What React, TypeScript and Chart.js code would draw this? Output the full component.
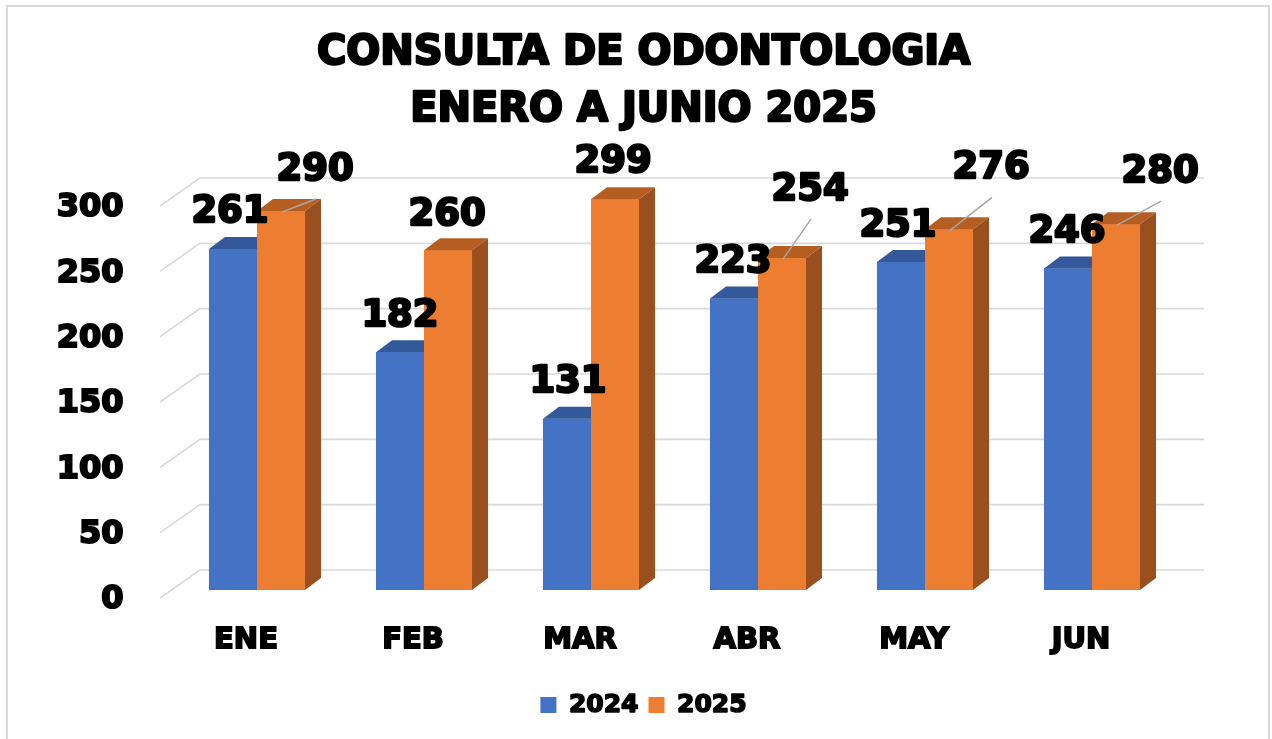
import React, { useEffect, useRef } from "react";
import { Chart, registerables } from "chart.js";

Chart.register(...registerables);

const TITLE_LINES = ["CONSULTA DE ODONTOLOGIA", "ENERO A JUNIO 2025"];
const CATEGORIES = ["ENE", "FEB", "MAR", "ABR", "MAY", "JUN"];
const SERIES_NAMES = ["2024", "2025"];
const VALUES_2024 = [261, 182, 131, 223, 251, 246];
const VALUES_2025 = [290, 260, 299, 254, 276, 280];
const Y_MIN = 0;
const Y_MAX = 300;
const Y_STEP = 50;

// manual label placement (offset from bar top-centre), like the moved labels in the original
const LABEL_OFFSETS_2024: [number, number][] = [[-3, -37], [0, -36], [1, -36], [-1, -36], [-3, -36], [-1, -36]];
const LABEL_OFFSETS_2025: [number, number][] = [[34, -41], [-1, -35], [-2, -37], [28, -68], [42, -61], [44, -52]];
const LEADERS_2025 = [true, false, false, true, true, true];

const FRONT_COLORS = ["#4472C4", "#ED7D31"];
const TOP_COLORS = ["#34599B", "#B65E22"];
const SIDE_COLORS = ["#2E4E88", "#9A501E"];
const FONT = "DejaVu Sans";
const DEPTH_X = 16;
const DEPTH_Y = -12;

const TITLE_SIZE = 40;
const TITLE_LH = 1.425;
const TITLE_PAD_TOP = 25.5;
const LEGEND_SIZE = 25;
const LEGEND_BOX = 16;

const frame3d = {
  id: "frame3d",
  beforeDraw(chart: any) {
    const { ctx, width, height } = chart;
    ctx.save();
    ctx.fillStyle = "#ffffff";
    ctx.fillRect(0, 0, width, height);
    ctx.strokeStyle = "#d9d9d9";
    ctx.lineWidth = 2;
    ctx.strokeRect(7, 6, 1262, 800);
    ctx.restore();
  },
  beforeDatasetsDraw(chart: any) {
    const { ctx } = chart;
    const ys = chart.scales.y;
    ctx.save();
    ctx.strokeStyle = "#d9d9d9";
    ctx.lineWidth = 1.6;
    ys.ticks.forEach((t: any) => {
      const y = ys.getPixelForValue(t.value);
      ctx.beginPath();
      ctx.moveTo(160, y + 8);
      ctx.lineTo(200, y - 20);
      ctx.lineTo(1204, y - 20);
      ctx.stroke();
    });
    ctx.restore();
  },
  afterDatasetsDraw(chart: any) {
    const { ctx } = chart;
    ctx.save();
    // redraw bars in series order so each 3D block layers like the original
    chart.data.datasets.forEach((_ds: any, di: number) => {
      const meta = chart.getDatasetMeta(di);
      meta.data.forEach((bar: any) => {
        bar.draw(ctx);
        const { x, y, base, width } = bar.getProps(["x", "y", "base", "width"], true);
        const x0 = x - width / 2;
        const x1 = x + width / 2;
        ctx.fillStyle = TOP_COLORS[di];
        ctx.beginPath();
        ctx.moveTo(x0, y);
        ctx.lineTo(x1, y);
        ctx.lineTo(x1 + DEPTH_X, y + DEPTH_Y);
        ctx.lineTo(x0 + DEPTH_X, y + DEPTH_Y);
        ctx.closePath();
        ctx.fill();
        ctx.fillStyle = SIDE_COLORS[di];
        ctx.beginPath();
        ctx.moveTo(x1, y);
        ctx.lineTo(x1 + DEPTH_X, y + DEPTH_Y);
        ctx.lineTo(x1 + DEPTH_X, base + DEPTH_Y);
        ctx.lineTo(x1, base);
        ctx.closePath();
        ctx.fill();
      });
    });
    // data labels
    chart.data.datasets.forEach((ds: any, di: number) => {
      const meta = chart.getDatasetMeta(di);
      const offsets = di === 0 ? LABEL_OFFSETS_2024 : LABEL_OFFSETS_2025;
      meta.data.forEach((bar: any, i: number) => {
        const { x, y } = bar.getProps(["x", "y"], true);
        const lx = x + offsets[i][0];
        const ly = y + offsets[i][1];
        if (di === 1 && LEADERS_2025[i]) {
          ctx.strokeStyle = "#a6a6a6";
          ctx.lineWidth = 1.5;
          ctx.beginPath();
          ctx.moveTo(x + 1, y + 1);
          ctx.lineTo(lx + 1, ly + 29);
          ctx.stroke();
        }
        ctx.font = `bold 37px "${FONT}"`;
        ctx.textAlign = "center";
        ctx.textBaseline = "middle";
        ctx.strokeStyle = "#000000";
        ctx.lineWidth = 2.4;
        ctx.lineJoin = "round";
        ctx.strokeText(String(ds.data[i]), lx, ly);
        ctx.fillStyle = "#000000";
        ctx.fillText(String(ds.data[i]), lx, ly);
      });
    });
    ctx.restore();
  },
  afterDraw(chart: any) {
    const { ctx } = chart;
    ctx.save();
    ctx.strokeStyle = "#000000";
    ctx.lineJoin = "round";
    ctx.textBaseline = "middle";
    // thicken title
    const tb = chart.titleBlock;
    if (tb) {
      const lh = TITLE_SIZE * TITLE_LH;
      ctx.font = `bold ${TITLE_SIZE}px "${FONT}"`;
      ctx.textAlign = "center";
      ctx.lineWidth = 2.4;
      const cx = (tb.left + tb.right) / 2;
      TITLE_LINES.forEach((t, i) => {
        ctx.strokeText(t, cx, tb.top + TITLE_PAD_TOP + lh / 2 + i * lh);
      });
    }
    // thicken legend text
    const lg = chart.legend;
    if (lg && lg.legendHitBoxes) {
      ctx.font = `bold ${LEGEND_SIZE}px "${FONT}"`;
      ctx.textAlign = "left";
      ctx.lineWidth = 1.6;
      lg.legendItems.forEach((it: any, i: number) => {
        const hb = lg.legendHitBoxes[i];
        ctx.strokeText(it.text, hb.left + LEGEND_BOX + LEGEND_SIZE / 2, hb.top + hb.height / 2);
      });
    }
    ctx.restore();
  },
};

export default function App() {
  const ref = useRef<HTMLCanvasElement | null>(null);
  useEffect(() => {
    if (!ref.current) return;
    const chart = new Chart(ref.current, {
      type: "bar",
      data: {
        labels: CATEGORIES,
        datasets: [
          {
            label: SERIES_NAMES[0],
            data: VALUES_2024,
            backgroundColor: FRONT_COLORS[0],
            borderWidth: 0,
            categoryPercentage: 0.575,
            barPercentage: 1.0,
          },
          {
            label: SERIES_NAMES[1],
            data: VALUES_2025,
            backgroundColor: FRONT_COLORS[1],
            borderWidth: 0,
            categoryPercentage: 0.575,
            barPercentage: 1.0,
          },
        ],
      },
      options: {
        responsive: false,
        animation: false,
        layout: { padding: { left: 15, right: 0, top: 0, bottom: 11.5 } },
        plugins: {
          title: {
            display: true,
            text: TITLE_LINES,
            color: "#000000",
            font: { family: FONT, weight: "bold", size: TITLE_SIZE, lineHeight: TITLE_LH },
            padding: { top: TITLE_PAD_TOP, bottom: 58.5 },
          },
          legend: {
            display: true,
            position: "bottom",
            labels: {
              boxWidth: LEGEND_BOX,
              boxHeight: LEGEND_BOX,
              padding: 10,
              color: "#000000",
              font: { family: FONT, weight: "bold", size: LEGEND_SIZE },
            },
          },
          tooltip: { enabled: false },
        },
        scales: {
          x: {
            grid: { display: false, drawTicks: false },
            border: { display: false },
            ticks: {
              color: "#000000",
              textStrokeColor: "#000000",
              textStrokeWidth: 1.8,
              padding: 32.6,
              labelOffset: -11,
              font: { family: FONT, weight: "bold", size: 29 },
            },
            afterFit: (s: any) => {
              s.height = 92.5;
            },
          },
          y: {
            min: Y_MIN,
            max: Y_MAX,
            grid: { display: false, drawTicks: false },
            border: { display: false },
            ticks: {
              stepSize: Y_STEP,
              color: "#000000",
              textStrokeColor: "#000000",
              textStrokeWidth: 2,
              padding: 50,
              labelOffset: 10,
              font: { family: FONT, weight: "bold", size: 32 },
            },
            afterFit: (s: any) => {
              s.width = 158.5;
            },
          },
          y2: {
            position: "right",
            display: true,
            grid: { display: false, drawTicks: false },
            border: { display: false },
            ticks: { display: false },
            afterFit: (s: any) => {
              s.width = 96.5;
            },
          },
        },
      },
      plugins: [frame3d],
    });
    return () => chart.destroy();
  }, []);
  return (
    <div style={{ position: "fixed", left: 0, top: 0, width: 1272, height: 739 }}>
      <canvas ref={ref} width={1272} height={739} />
    </div>
  );
}
